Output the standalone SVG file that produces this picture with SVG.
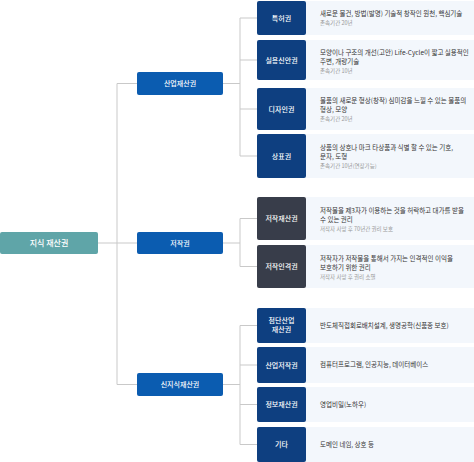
<svg xmlns="http://www.w3.org/2000/svg" width="474" height="462" viewBox="0 0 474 462">
<style>
text{font-family:"Noto Sans CJK KR","Noto Sans",sans-serif}
.ln{stroke:#c9c9c9;stroke-width:1;fill:none}
.root{fill:#5fa5a8}
.l2{fill:#0b5cb0}
.lf{fill:#0e3f80}
.dk{fill:#383d4a}
.pn{fill:#f3f7fc}
.wt{fill:#fff;font-size:7px;text-anchor:middle;font-weight:500}
.rt{fill:#fff;font-size:8px;text-anchor:middle;font-weight:500}
.ds{fill:#333;font-size:6.5px}
.sb{fill:#999;font-size:5.5px}
</style>
<g id="connectors">
<path class="ln" d="M98 243H137M117 83.5V384.5M117 83.5H137M117 384.5H137"/>
<path class="ln" d="M223 83.5H240M240 18V156M240 18H257M240 60H257M240 109H257M240 156H257"/>
<path class="ln" d="M223 243H240M240 218.5V266.5M240 218.5H257M240 266.5H257"/>
<path class="ln" d="M223 384.5H240M240 325.5V444.5M240 325.5H257M240 365H257M240 404.5H257M240 444.5H257"/>
</g>
<g id="root"><rect class="root" x="0" y="232" width="98" height="22" rx="2"/><text class="rt" x="49" y="246">지식 재산권</text></g>
<g id="n-industrial"><rect class="l2" x="137" y="72" width="86" height="23" rx="2"/><text class="wt" x="180" y="86">산업재산권</text></g>
<g id="n-copyright"><rect class="l2" x="137" y="232" width="86" height="22" rx="2"/><text class="wt" x="180" y="245.5">저작권</text></g>
<g id="n-newip"><rect class="l2" x="137" y="373" width="86" height="23" rx="2"/><text class="wt" x="180" y="387">신지식재산권</text></g>

<g id="n-patent"><rect class="pn" x="306" y="1" width="168" height="34"/><rect class="lf" x="257" y="1" width="49" height="34" rx="2"/><text class="wt" x="281.5" y="20.5">특허권</text>
<text class="ds" x="320" y="16">새로운 물건, 방법(발명) 기술적 창작인 원천, 핵심기술</text><text class="sb" x="320" y="25">존속기간 20년</text></g>
<g id="n-utility"><rect class="pn" x="306" y="40" width="168" height="40"/><rect class="lf" x="257" y="40" width="49" height="40" rx="2"/><text class="wt" x="281.5" y="62.5">실용신안권</text>
<text class="ds" x="320" y="55">모양이나 구조의 개선(고안) Life-Cycle이 짧고 실용적인</text><text class="ds" x="320" y="63.5">주변, 개량기술</text><text class="sb" x="320" y="72.5">존속기간 10년</text></g>
<g id="n-design"><rect class="pn" x="306" y="88" width="168" height="42"/><rect class="lf" x="257" y="88" width="49" height="42" rx="2"/><text class="wt" x="281.5" y="111.5">디자인권</text>
<text class="ds" x="320" y="103">물품의 새로운 형상(창작) 심미감을 느낄 수 있는 물품의</text><text class="ds" x="320" y="111.5">형상, 모양</text><text class="sb" x="320" y="120.5">존속기간 20년</text></g>
<g id="n-trademark"><rect class="pn" x="306" y="134" width="168" height="44"/><rect class="lf" x="257" y="134" width="49" height="44" rx="2"/><text class="wt" x="281.5" y="158.5">상표권</text>
<text class="ds" x="320" y="150">상품의 상호나 마크 타상품과 식별 할 수 있는 기호,</text><text class="ds" x="320" y="158.5">문자, 도형</text><text class="sb" x="320" y="167.5">존속기간 10년(연장가능)</text></g>

<g id="n-economic"><rect class="pn" x="306" y="197" width="168" height="43"/><rect class="dk" x="257" y="197" width="49" height="43" rx="2"/><text class="wt" x="281.5" y="221">저작재산권</text>
<text class="ds" x="320" y="213">저작물을 제3자가 이용하는 것을 허락하고 대가를 받을</text><text class="ds" x="320" y="221.5">수 있는 권리</text><text class="sb" x="320" y="230.5">저작자 사망 후 70년간 권리 보호</text></g>
<g id="n-moral"><rect class="pn" x="306" y="245" width="168" height="43"/><rect class="dk" x="257" y="245" width="49" height="43" rx="2"/><text class="wt" x="281.5" y="269">저작인격권</text>
<text class="ds" x="320" y="261">저작자가 저작물을 통해서 가지는 인격적인 이익을</text><text class="ds" x="320" y="269.5">보호하기 위한 권리</text><text class="sb" x="320" y="278.5">저작자 사망 후 권리 소멸</text></g>

<g id="n-advanced"><rect class="pn" x="306" y="308" width="168" height="35"/><rect class="lf" x="257" y="308" width="49" height="35" rx="2"/><text class="wt" x="281.5" y="323">첨단산업</text><text class="wt" x="281.5" y="332">재산권</text>
<text class="ds" x="320" y="327.5">반도체직접회로배치설계, 생명공학(신품종 보호)</text></g>
<g id="n-indcopy"><rect class="pn" x="306" y="347" width="168" height="36"/><rect class="lf" x="257" y="347" width="49" height="36" rx="2"/><text class="wt" x="281.5" y="367.5">산업저작권</text>
<text class="ds" x="320" y="367">컴퓨터프로그램, 인공지능, 데이터베이스</text></g>
<g id="n-info"><rect class="pn" x="306" y="387" width="168" height="35"/><rect class="lf" x="257" y="387" width="49" height="35" rx="2"/><text class="wt" x="281.5" y="407">정보재산권</text>
<text class="ds" x="320" y="406.5">영업비밀(노하우)</text></g>
<g id="n-etc"><rect class="pn" x="306" y="427" width="168" height="35"/><rect class="lf" x="257" y="427" width="49" height="35" rx="2"/><text class="wt" x="281.5" y="447">기타</text>
<text class="ds" x="320" y="446.5">도메인 네임, 상호 등</text></g>
</svg>
